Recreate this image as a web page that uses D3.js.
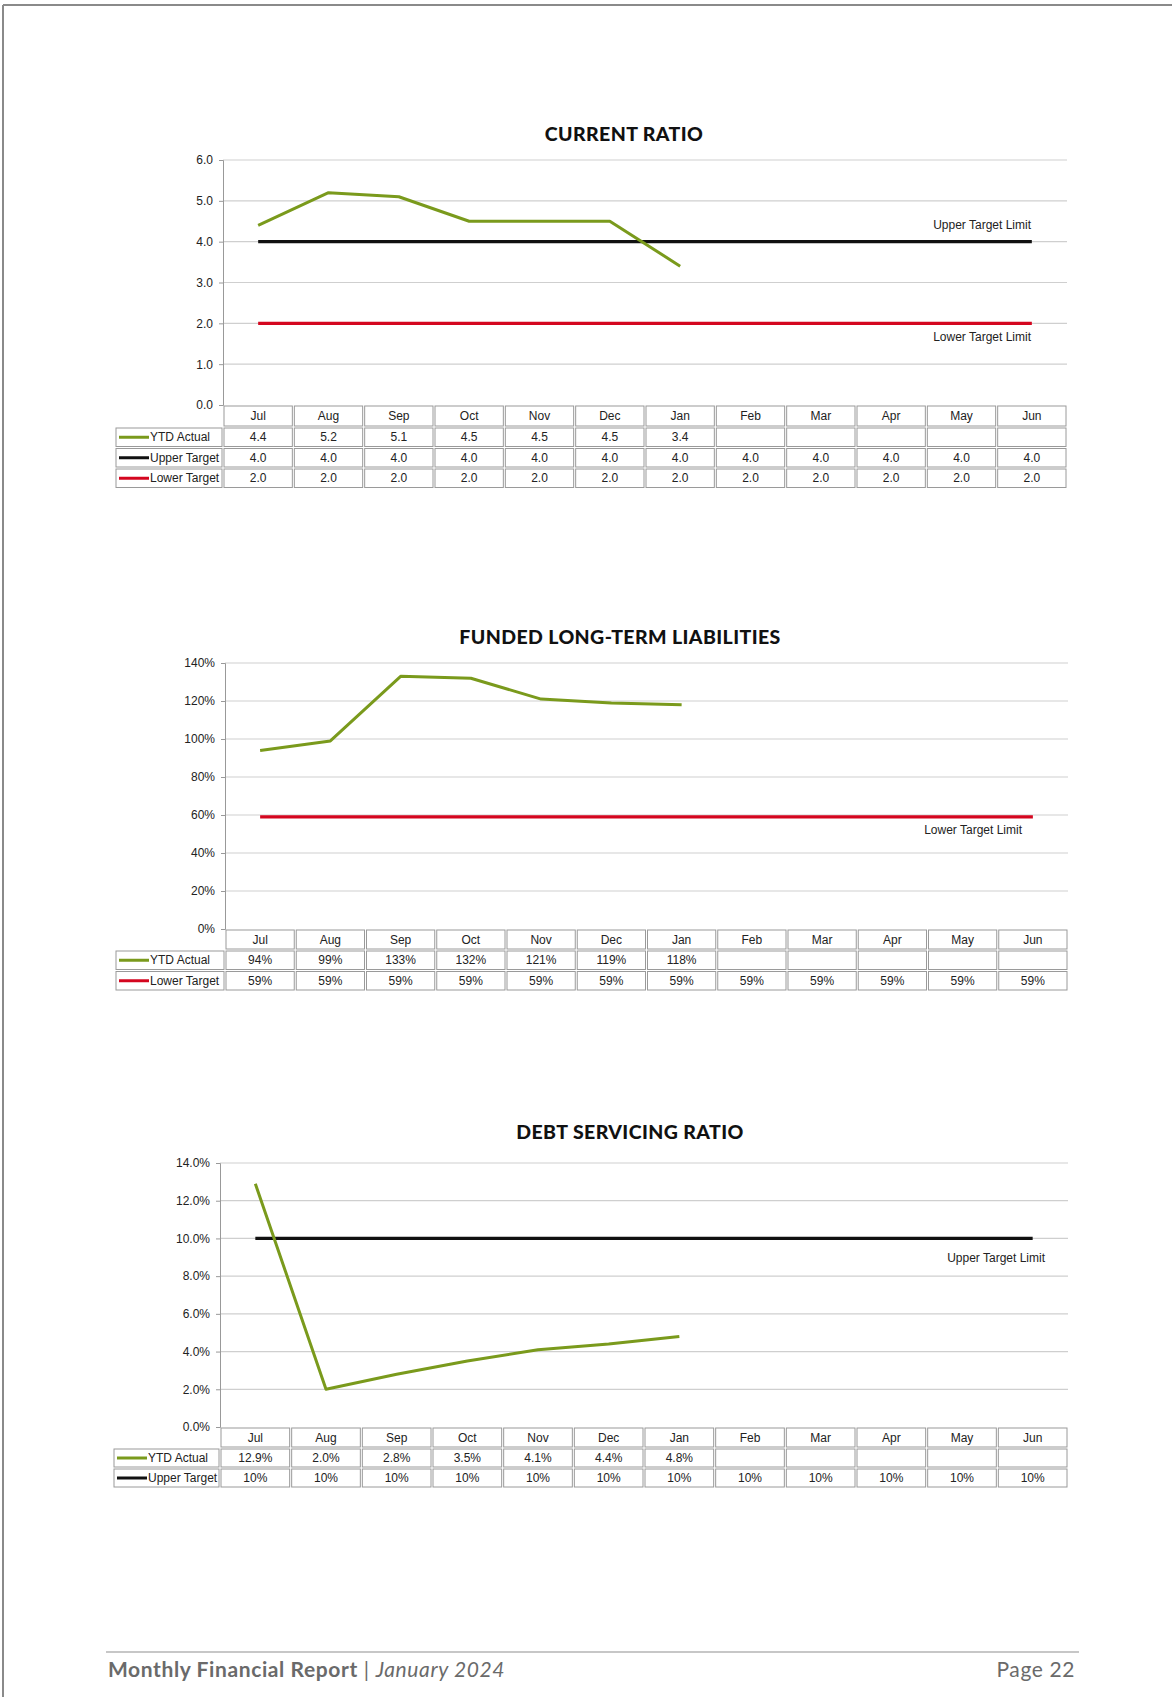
<!DOCTYPE html>
<html>
<head>
<meta charset="utf-8">
<script src="https://cdn.jsdelivr.net/npm/d3@7"></script>
<style>
  html, body { margin: 0; padding: 0; background: #fff; }
  svg { display: block; }
  .small { font-family: "Liberation Sans Narrow", "Liberation Sans", Arial, sans-serif; font-size: 12px; fill: #222; }
</style>
</head>
<body>
<svg id="page" width="1172" height="1697"></svg>
<script>
const months = ["Jul", "Aug", "Sep", "Oct", "Nov", "Dec", "Jan", "Feb", "Mar", "Apr", "May", "Jun"];

// current ratio
const currentTicks = [0, 1, 2, 3, 4, 5, 6];
const currentActual = [4.4, 5.2, 5.1, 4.5, 4.5, 4.5, 3.4];
const currentUpper = [4.0, 4.0, 4.0, 4.0, 4.0, 4.0, 4.0, 4.0, 4.0, 4.0, 4.0, 4.0];
const currentLower = [2.0, 2.0, 2.0, 2.0, 2.0, 2.0, 2.0, 2.0, 2.0, 2.0, 2.0, 2.0];

// funded long-term liabilities (%)
const fundedTicks = [0, 20, 40, 60, 80, 100, 120, 140];
const fundedActual = [94, 99, 133, 132, 121, 119, 118];
const fundedLower = [59, 59, 59, 59, 59, 59, 59, 59, 59, 59, 59, 59];

// debt servicing ratio (%)
const debtTicks = [0, 2, 4, 6, 8, 10, 12, 14];
const debtActual = [12.9, 2.0, 2.8, 3.5, 4.1, 4.4, 4.8];
const debtUpper = [10, 10, 10, 10, 10, 10, 10, 10, 10, 10, 10, 10];

const GREEN = "#7a9a1c";
const BLACK = "#111";
const RED = "#d4061f";

const svg = d3.select("#page");

// page frame
svg.append("line").attr("x1", 3).attr("y1", 5).attr("x2", 1172).attr("y2", 5).attr("stroke", "#8a8a8a").attr("stroke-width", 2);
svg.append("line").attr("x1", 3).attr("y1", 5).attr("x2", 3).attr("y2", 1697).attr("stroke", "#8a8a8a").attr("stroke-width", 2);

function drawChart(opts) {
  const g = svg.append("g");
  const x = d3.scaleBand().domain(months).range([opts.left, opts.right]);
  const y = d3.scaleLinear().domain(d3.extent(opts.ticks)).range([opts.bottom, opts.top]);

  g.append("text")
    .attr("x", opts.titleX)
    .attr("y", opts.titleY)
    .attr("text-anchor", "middle")
    .attr("font-family", "Lato, 'DejaVu Sans', sans-serif")
    .attr("font-weight", 900)
    .attr("font-size", 19.5)
    .attr("letter-spacing", 0.4)
    .attr("fill", "#111")
    .text(opts.title);

  // gridlines
  g.append("g")
    .selectAll("line")
    .data(opts.ticks.filter((t) => t !== 0))
    .join("line")
    .attr("x1", opts.left)
    .attr("x2", opts.right)
    .attr("y1", (t) => y(t))
    .attr("y2", (t) => y(t))
    .attr("stroke", "#cfcfcf")
    .attr("stroke-width", 1.2);

  // y axis
  const axis = g.append("g")
    .attr("transform", `translate(${opts.left},0)`)
    .call(d3.axisLeft(y).tickValues(opts.ticks).tickSize(4).tickPadding(6).tickFormat(opts.tickFormat));
  axis.select(".domain").attr("stroke", "#999");
  axis.selectAll(".tick line").attr("stroke", "#999");
  axis.selectAll("text").attr("class", "small").attr("font-size", null).attr("font-family", null).attr("fill", "#333");

  const lineGen = d3.line().x((d, i) => x(months[i]) + x.bandwidth() / 2).y((d) => y(d));

  opts.series.filter((s) => s.target).forEach((s) => {
    g.append("path").datum(s.values).attr("d", lineGen).attr("fill", "none").attr("stroke", s.color).attr("stroke-width", 3.2);
  });
  opts.series.filter((s) => !s.target).forEach((s) => {
    g.append("path").datum(s.values).attr("d", lineGen).attr("fill", "none").attr("stroke", s.color).attr("stroke-width", 3).attr("stroke-linejoin", "round");
  });

  opts.labels.forEach((lab) => {
    g.append("text")
      .attr("class", "small")
      .attr("x", opts.right - lab.dx)
      .attr("y", y(lab.value) + lab.dy)
      .attr("text-anchor", "end")
      .text(lab.text);
  });

  // data table
  const rowTops = [opts.bottom];
  let yy = opts.bottom + opts.headerH;
  opts.series.forEach(() => {
    rowTops.push(yy);
    yy += opts.rowH;
  });
  rowTops.push(yy);

  const cellStroke = "#9a9a9a";
  const tbl = g.append("g");
  // header cells
  months.forEach((m) => {
    tbl.append("rect")
      .attr("x", x(m) + 1).attr("y", rowTops[0] + 1)
      .attr("width", x.bandwidth() - 2).attr("height", opts.headerH - 2)
      .attr("fill", "none").attr("stroke", cellStroke);
    tbl.append("text").attr("class", "small")
      .attr("x", x(m) + x.bandwidth() / 2).attr("y", rowTops[0] + opts.headerH / 2 + 4)
      .attr("text-anchor", "middle").text(m);
  });
  opts.series.forEach((s, r) => {
    const top = rowTops[r + 1];
    tbl.append("rect")
      .attr("x", opts.legendX + 1).attr("y", top + 1)
      .attr("width", opts.left - opts.legendX - 2).attr("height", opts.rowH - 2)
      .attr("fill", "none").attr("stroke", cellStroke);
    tbl.append("line")
      .attr("x1", opts.legendX + 4).attr("x2", opts.legendX + 34)
      .attr("y1", top + opts.rowH / 2).attr("y2", top + opts.rowH / 2)
      .attr("stroke", s.color).attr("stroke-width", 3);
    tbl.append("text").attr("class", "small")
      .attr("x", opts.legendX + 35).attr("y", top + opts.rowH / 2 + 4)
      .text(s.name);
    months.forEach((m, i) => {
      tbl.append("rect")
        .attr("x", x(m) + 1).attr("y", top + 1)
        .attr("width", x.bandwidth() - 2).attr("height", opts.rowH - 2)
        .attr("fill", "none").attr("stroke", cellStroke);
      if (i < s.values.length) {
        tbl.append("text").attr("class", "small")
          .attr("x", x(m) + x.bandwidth() / 2).attr("y", top + opts.rowH / 2 + 4)
          .attr("text-anchor", "middle").text(s.format(s.values[i]));
      }
    });
  });
}

drawChart({
  title: "CURRENT RATIO",
  titleX: 624, titleY: 141,
  top: 160, bottom: 405, left: 223, right: 1067, legendX: 115,
  headerH: 22, rowH: 20.5,
  ticks: currentTicks,
  tickFormat: (v) => v.toFixed(1),
  series: [
    { name: "YTD Actual", values: currentActual, color: GREEN, format: (v) => v.toFixed(1) },
    { name: "Upper Target", values: currentUpper, color: BLACK, target: true, format: (v) => v.toFixed(1) },
    { name: "Lower Target", values: currentLower, color: RED, target: true, format: (v) => v.toFixed(1) },
  ],
  labels: [
    { text: "Upper Target Limit", value: 4, dx: 36, dy: -13 },
    { text: "Lower Target Limit", value: 2, dx: 36, dy: 18 },
  ],
});

drawChart({
  title: "FUNDED LONG-TERM LIABILITIES",
  titleX: 620, titleY: 644,
  top: 663, bottom: 929, left: 225, right: 1068, legendX: 115,
  headerH: 21, rowH: 20.5,
  ticks: fundedTicks,
  tickFormat: (v) => `${v}%`,
  series: [
    { name: "YTD Actual", values: fundedActual, color: GREEN, format: (v) => `${v}%` },
    { name: "Lower Target", values: fundedLower, color: RED, target: true, format: (v) => `${v}%` },
  ],
  labels: [
    { text: "Lower Target Limit", value: 59, dx: 46, dy: 17 },
  ],
});

drawChart({
  title: "DEBT SERVICING RATIO",
  titleX: 630, titleY: 1139,
  top: 1163, bottom: 1427, left: 220, right: 1068, legendX: 113,
  headerH: 21, rowH: 20,
  ticks: debtTicks,
  tickFormat: (v) => `${v.toFixed(1)}%`,
  series: [
    { name: "YTD Actual", values: debtActual, color: GREEN, format: (v) => `${v.toFixed(1)}%` },
    { name: "Upper Target", values: debtUpper, color: BLACK, target: true, format: (v) => `${v}%` },
  ],
  labels: [
    { text: "Upper Target Limit", value: 10, dx: 23, dy: 24 },
  ],
});

// footer
svg.append("line").attr("x1", 106).attr("x2", 1079).attr("y1", 1652).attr("y2", 1652).attr("stroke", "#b5b5b5").attr("stroke-width", 1.5);
const foot = svg.append("text")
  .attr("x", 108).attr("y", 1677)
  .attr("font-family", "Lato, 'DejaVu Sans', sans-serif")
  .attr("font-size", 21)
  .attr("letter-spacing", 0.6)
  .attr("fill", "#6a6a6a");
foot.append("tspan").attr("font-weight", 700).text("Monthly Financial Report");
foot.append("tspan").text(" | ");
foot.append("tspan").attr("font-style", "italic").text("January 2024");
svg.append("text")
  .attr("x", 1075).attr("y", 1677)
  .attr("text-anchor", "end")
  .attr("font-family", "Lato, 'DejaVu Sans', sans-serif")
  .attr("font-size", 21)
  .attr("letter-spacing", 0.6)
  .attr("fill", "#6a6a6a")
  .text("Page 22");
</script>
</body>
</html>
